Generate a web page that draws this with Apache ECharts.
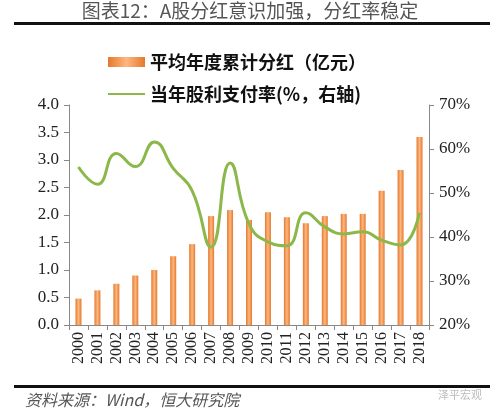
<!DOCTYPE html>
<html>
<head>
<meta charset="utf-8">
<script src="https://cdn.jsdelivr.net/npm/echarts@6/dist/echarts.min.js"></script>
<style>
  html, body { margin: 0; padding: 0; background: #fff; }
  #main { width: 500px; height: 416px; }
</style>
</head>
<body>
<div id="main"></div>
<script>
var years = ['2000','2001','2002','2003','2004','2005','2006','2007','2008','2009',
             '2010','2011','2012','2013','2014','2015','2016','2017','2018'];
// 平均年度累计分红（亿元）
var dividend = [0.48, 0.63, 0.75, 0.9, 1.0, 1.25, 1.47, 1.98, 2.09, 1.91,
                2.05, 1.96, 1.85, 1.98, 2.02, 2.02, 2.44, 2.82, 3.42];
// 当年股利支付率(%)
var payout = [55.9, 52, 59, 56, 61.6, 55.6, 50.5, 37.7, 56.8, 43,
              38.9, 38, 45.5, 42.3, 40.7, 41.2, 39.3, 38.2, 45.5];
var leftTicks = [0, 4];
var rightTicks = [20, 70];

var serif = '"Liberation Serif", "Noto Sans CJK SC", serif';
var cjk = '"Noto Sans CJK SC", sans-serif';

var chart = echarts.init(document.getElementById('main'));

var barColor = new echarts.graphic.LinearGradient(0, 0, 1, 0, [
  { offset: 0, color: '#E5782F' },
  { offset: 0.5, color: '#FDB77E' },
  { offset: 1, color: '#E5782F' }
]);

var option = {
  animation: false,
  backgroundColor: '#fff',
  graphic: [
    { type: 'text', left: 'center', top: 1,
      style: { text: '图表12：A股分红意识加强，分红率稳定', font: '19px ' + cjk, fill: '#555' } },
    { type: 'rect', shape: { x: 14, y: 22, width: 476, height: 3 }, style: { fill: '#111' } },
    { type: 'rect', shape: { x: 14, y: 385, width: 476, height: 3 }, style: { fill: '#111' } },
    { type: 'text', left: 25, top: 392,
      style: { text: '资料来源：Wind，恒大研究院', font: 'italic 16px ' + cjk, fill: '#555' } },
    { type: 'text', left: 438, top: 389,
      style: { text: '泽平宏观', font: '11px ' + cjk, fill: '#bbb' } }
  ],
  legend: {
    orient: 'vertical',
    left: 103,
    top: 48,
    itemWidth: 37,
    itemHeight: 10,
    itemGap: 14,
    textStyle: { fontFamily: cjk, fontSize: 18, fontWeight: 'bold', color: '#111' },
    data: [
      { name: '平均年度累计分红（亿元）', icon: 'rect' },
      { name: '当年股利支付率(%，右轴)', icon: 'path://M0,0H37V2H0Z' }
    ]
  },
  grid: { left: 69, right: 71, top: 105, bottom: 91 },
  xAxis: {
    type: 'category',
    data: years,
    axisLine: { lineStyle: { color: '#888' } },
    axisTick: { show: true, length: 5, interval: 0, lineStyle: { color: '#888' } },
    axisLabel: { rotate: 90, interval: 0, fontFamily: serif, fontSize: 16, color: '#222', margin: 7 }
  },
  yAxis: [
    {
      type: 'value', min: leftTicks[0], max: leftTicks[1], interval: 0.5,
      axisLine: { show: true, lineStyle: { color: '#888' } },
      axisTick: { show: true, length: 5, lineStyle: { color: '#888' } },
      splitLine: { show: false },
      axisLabel: { fontFamily: serif, fontSize: 17, color: '#222', margin: 10,
        formatter: function (v) { return v.toFixed(1); } }
    },
    {
      type: 'value', min: rightTicks[0], max: rightTicks[1], interval: 10,
      position: 'right',
      axisLine: { show: true, lineStyle: { color: '#888' } },
      axisTick: { show: true, length: 5, lineStyle: { color: '#888' } },
      splitLine: { show: false },
      axisLabel: { fontFamily: serif, fontSize: 17, color: '#222', margin: 10,
        formatter: '{value}%' }
    }
  ],
  series: [
    {
      name: '平均年度累计分红（亿元）',
      type: 'bar',
      data: dividend,
      barWidth: 6,
      itemStyle: { color: barColor }
    },
    {
      name: '当年股利支付率(%，右轴)',
      type: 'line',
      yAxisIndex: 1,
      data: payout,
      smooth: 0.5,
      symbol: 'none',
      lineStyle: { color: '#8CB84A', width: 3 },
      itemStyle: { color: '#8CB84A' }
    }
  ]
};

chart.setOption(option);
</script>
</body>
</html>
